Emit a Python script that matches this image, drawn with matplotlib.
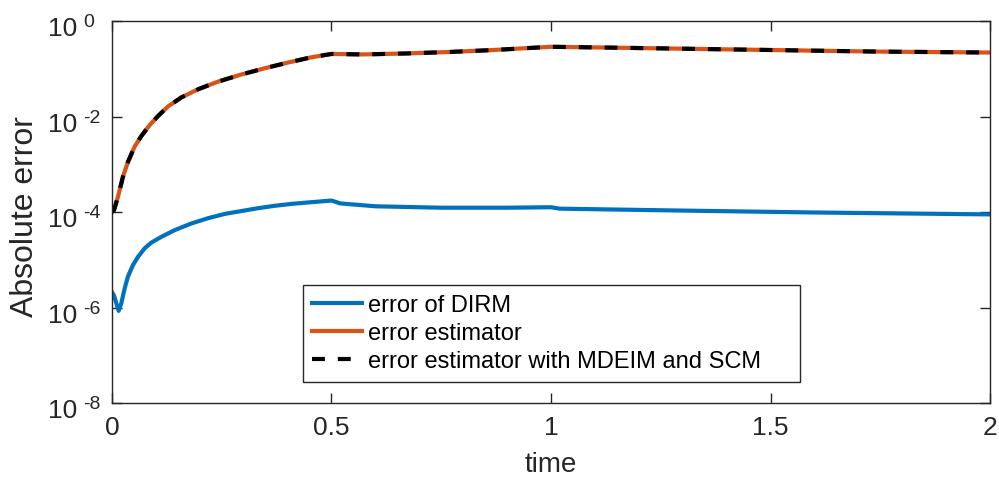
import numpy as np
import matplotlib
matplotlib.use("Agg")
import matplotlib.pyplot as plt

plt.rcParams['font.family'] = ['Liberation Sans', 'DejaVu Sans']

# error of the reduced model (DIRM)
t_dirm = [0.0, 0.0046, 0.0152, 0.0213, 0.0289, 0.0364, 0.0478, 0.0592, 0.0744,
          0.0896, 0.1124, 0.1427, 0.1807, 0.2187, 0.2566, 0.2946, 0.3326,
          0.3706, 0.4085, 0.4465, 0.5, 0.52, 0.6, 0.75, 0.9, 1.0, 1.02, 1.3,
          1.6, 2.0]
log_dirm = [-5.68, -5.75, -6.07, -5.91, -5.60, -5.35, -5.11, -4.94, -4.76,
            -4.64, -4.52, -4.38, -4.24, -4.13, -4.04, -3.98, -3.92,
            -3.87, -3.83, -3.80, -3.76, -3.82, -3.88, -3.91, -3.91, -3.90, -3.93, -3.97,
            -4.01, -4.05]

# error estimator (identical values with MDEIM and SCM)
t_est = [0.0, 0.0046, 0.0137, 0.025, 0.0364, 0.0516, 0.0668, 0.0858, 0.1048,
         0.1276, 0.158, 0.196, 0.2415, 0.2946, 0.3478, 0.4009, 0.454, 0.5,
         0.571, 0.668, 0.766, 0.863, 1.0, 1.155, 1.446, 1.739, 2.0]
log_est = [-4.00, -3.96, -3.68, -3.26, -2.95, -2.63, -2.41, -2.18, -1.99,
           -1.79, -1.60, -1.43, -1.27, -1.12, -0.99, -0.87, -0.76, -0.69,
           -0.70, -0.68, -0.65, -0.61, -0.54, -0.56, -0.60, -0.64, -0.66]

ytick_exp = [-8, -6, -4, -2, 0]
xticks = [0, 0.5, 1, 1.5, 2]
xtick_labels = ['0', '0.5', '1', '1.5', '2']

err_dirm = 10.0 ** np.array(log_dirm)
err_est = 10.0 ** np.array(log_est)

blue = '#0072BD'
orange = '#D95319'
axcol = '#262626'

fig = plt.figure(figsize=(9.99, 4.83), dpi=100)
ax = fig.add_axes([0.1121, 0.1656, 0.8789, 0.7909])

ax.semilogy(t_dirm, err_dirm, color=blue, lw=3, label='error of DIRM')
ax.semilogy(t_est, err_est, color=orange, lw=3, label='error estimator')
ax.semilogy(t_est, err_est, color='black', lw=3, dashes=(3.1, 3.1),
            label='error estimator with MDEIM and SCM')

ax.set_xlim(0, 2)
ax.set_ylim(1e-8, 1e0)
ax.set_xticks(xticks)
ax.set_xticklabels(xtick_labels)
ax.set_yticks([10.0 ** e for e in ytick_exp])
ax.set_yticks([], minor=True)
ax.set_yticklabels([])

# MATLAB-style "10^-n" labels: base and raised exponent drawn separately
for e in ytick_exp:
    ax.annotate('10', xy=(0, 10.0 ** e), xycoords=('axes fraction', 'data'),
                xytext=(-25, -11), textcoords='offset points',
                ha='right', va='baseline', fontsize=19, color=axcol)
    ax.annotate('%d' % e, xy=(0, 10.0 ** e), xycoords=('axes fraction', 'data'),
                xytext=(-21, -4.5), textcoords='offset points',
                ha='left', va='baseline', fontsize=14, color=axcol)

for s in ax.spines.values():
    s.set_color(axcol)
    s.set_linewidth(1.0)
ax.tick_params(which='both', direction='in', top=True, right=True,
               length=7, width=1.0, color=axcol, labelcolor=axcol,
               labelsize=19, pad=9)

ax.set_xlabel('time', fontsize=20, color=axcol)
ax.xaxis.set_label_coords(0.5, -0.162)
ax.xaxis.label.set_va('center')
ax.set_ylabel('Absolute error', fontsize=23, color=axcol)
ax.yaxis.set_label_coords(-0.099, 0.487)
ax.yaxis.label.set_va('center')

leg = ax.legend(loc='lower left', bbox_to_anchor=(0.2175, 0.055, 0.566, 0.243),
                mode='expand', borderaxespad=0, fontsize=17, handlelength=2.1,
                handletextpad=0.25, borderpad=0.4, labelspacing=0.25,
                fancybox=False, framealpha=1, edgecolor=axcol)
leg.get_frame().set_linewidth(1.0)

fig.savefig('out.png', dpi=100)
